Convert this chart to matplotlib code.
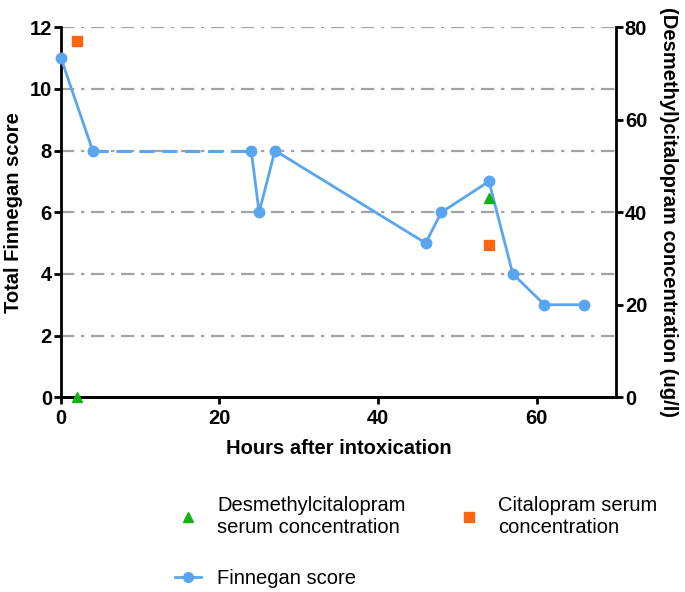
import matplotlib
matplotlib.use('Agg')
import matplotlib.pyplot as plt

plt.rcParams['font.family'] = ['Liberation Sans', 'DejaVu Sans']

# Finnegan score over time
hours = [0, 4, 24, 25, 27, 46, 48, 54, 57, 61, 66]
finnegan = [11, 8, 8, 6, 8, 5, 6, 7, 4, 3, 3]

# serum concentrations (ug/l)
conc_hours = [2, 54]
desmethyl = [0, 43]
citalopram = [77, 33]

BLUE = '#5aa5ef'
GREEN = '#14b014'
ORANGE = '#ff6410'
FS = 14.5

fig = plt.figure(figsize=(6.85, 5.92), dpi=100)
ax = fig.add_axes([0.089, 0.329, 0.81, 0.625])
ax2 = ax.twinx()

for y in range(2, 13, 2):
    ax.axhline(y, color='#a3a3a3', lw=1.6, ls=(0, (6, 3, 1.5, 3)), zorder=0)

# dashed gap between 4h and 24h, solid elsewhere
ax.plot(hours[:2], finnegan[:2], color=BLUE, lw=2, zorder=3)
ax.plot(hours[1:3], finnegan[1:3], color=BLUE, lw=2.2, ls=(0, (5, 2.5)), zorder=3)
ax.plot(hours[2:], finnegan[2:], color=BLUE, lw=2, zorder=3)
ax.plot(hours, finnegan, color=BLUE, lw=0, marker='o', ms=7.5, zorder=4,
        clip_on=False)

ax2.plot(conc_hours, desmethyl, ls='none', marker='^', color=GREEN, ms=7.5,
         clip_on=False, zorder=5)
ax2.plot(conc_hours, citalopram, ls='none', marker='s', color=ORANGE, ms=7,
         clip_on=False, zorder=5)

ax.set_xlim(0, 70)
ax.set_ylim(0, 12)
ax2.set_ylim(0, 80)
ax.set_xticks([0, 20, 40, 60])
ax.set_yticks(range(0, 13, 2))
ax2.set_yticks([0, 20, 40, 60, 80])

for a in (ax, ax2):
    for s in a.spines.values():
        s.set_linewidth(2)
    a.spines['top'].set_visible(False)
    a.tick_params(width=2, length=5, labelsize=FS)
    a.tick_params(axis='y', pad=1.5)
    for lbl in a.get_xticklabels() + a.get_yticklabels():
        lbl.set_fontweight('bold')
ax2.spines['left'].set_visible(False)
ax.spines['right'].set_visible(False)

ax.set_xlabel('Hours after intoxication', fontsize=FS, fontweight='bold', labelpad=8)
ax.set_ylabel('Total Finnegan score', fontsize=FS, fontweight='bold', labelpad=5)
ax2.set_ylabel('(Desmethyl)citalopram concentration (ug/l)', fontsize=FS,
               fontweight='bold', rotation=270, labelpad=22)

labels = ['Desmethylcitalopram\nserum concentration', 'Finnegan score',
          'Citalopram serum\nconcentration']
fin_leg = plt.Line2D([], [], color=BLUE, lw=2, marker='o', ms=7)
tri_leg = plt.Line2D([], [], ls='none', marker='^', color=GREEN, ms=7)
sq_leg = plt.Line2D([], [], ls='none', marker='s', color=ORANGE, ms=7)
fig.legend([tri_leg, fin_leg, sq_leg], labels, ncol=2, loc='upper left',
           bbox_to_anchor=(0.229, 0.193), frameon=False, fontsize=FS,
           handlelength=1.3, labelspacing=1.6, columnspacing=2.5,
           handletextpad=0.8)

fig.savefig('out.png', dpi=100)
